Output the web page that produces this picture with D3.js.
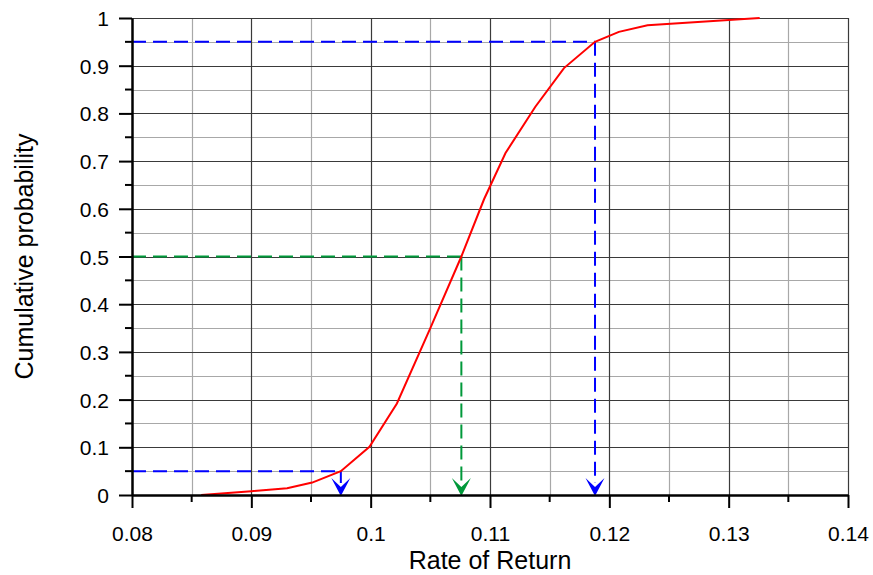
<!DOCTYPE html>
<html>
<head>
<meta charset="utf-8">
<script src="https://cdn.jsdelivr.net/npm/d3@7"></script>
<style>
    body { margin: 0; background: #fff; }
    text { font-family: Arial, "Liberation Sans", sans-serif; fill: #000; }
</style>
</head>
<body>
<div id="chart"></div>
<script>
// cumulative distribution of the rate of return
var returns = [0.0858, 0.0900, 0.0930, 0.0951, 0.0975, 0.0999, 0.1022, 0.1050, 0.1076, 0.1095, 0.1113, 0.1138, 0.1162, 0.1188, 0.1208, 0.1232, 0.1326];
var cumProb = [0, 0.008, 0.014, 0.026, 0.05, 0.101, 0.192, 0.35, 0.50, 0.62, 0.717, 0.814, 0.895, 0.95, 0.971, 0.985, 1.0];

// percentile markers
var markerProb = [0.05, 0.5, 0.95];
var markerReturn = [0.0975, 0.1076, 0.1188];
var markerColor = ["#0000ff", "#00993a", "#0000ff"];

var xTicks = [0.08, 0.09, 0.10, 0.11, 0.12, 0.13, 0.14];
var xMinor = [0.085, 0.095, 0.105, 0.115, 0.125, 0.135];
var yTicks = [0, 0.1, 0.2, 0.3, 0.4, 0.5, 0.6, 0.7, 0.8, 0.9, 1];
var yMinor = [0.05, 0.15, 0.25, 0.35, 0.45, 0.55, 0.65, 0.75, 0.85, 0.95];

var W = 873, H = 575;
var plotL = 132, plotR = 848, plotT = 18, plotB = 495;

var svg = d3.select("#chart").append("svg")
    .attr("width", W)
    .attr("height", H);

var x = d3.scaleLinear().domain([0.08, 0.14]).range([plotL, plotR]);
var y = d3.scaleLinear().domain([0, 1]).range([plotB, plotT]);

var fmt = function (d) { return String(+d.toFixed(3)); };

// grid: minor first, major on top
var grid = svg.append("g");
grid.selectAll(".vminor").data(xMinor).enter().append("line")
    .attr("x1", function (d) { return Math.round(x(d)) + 0.5; })
    .attr("x2", function (d) { return Math.round(x(d)) + 0.5; })
    .attr("y1", plotT).attr("y2", plotB)
    .attr("stroke", "#a8a8a8").attr("stroke-width", 1.2);
grid.selectAll(".hminor").data(yMinor).enter().append("line")
    .attr("y1", function (d) { return Math.round(y(d)) + 0.5; })
    .attr("y2", function (d) { return Math.round(y(d)) + 0.5; })
    .attr("x1", plotL).attr("x2", plotR)
    .attr("stroke", "#a8a8a8").attr("stroke-width", 1.2);
grid.selectAll(".vmajor").data(xTicks.slice(1)).enter().append("line")
    .attr("x1", function (d) { return Math.round(x(d)) + 0.5; })
    .attr("x2", function (d) { return Math.round(x(d)) + 0.5; })
    .attr("y1", plotT).attr("y2", plotB)
    .attr("stroke", "#3a3a3a").attr("stroke-width", 1.2);
grid.selectAll(".hmajor").data(yTicks.slice(1)).enter().append("line")
    .attr("y1", function (d) { return Math.round(y(d)) + 0.5; })
    .attr("y2", function (d) { return Math.round(y(d)) + 0.5; })
    .attr("x1", plotL).attr("x2", plotR)
    .attr("stroke", "#3a3a3a").attr("stroke-width", 1.2);

// dashed guide lines from the axis to the curve and down to the axis
var guides = svg.append("g");
markerProb.forEach(function (p, i) {
    guides.append("path")
        .attr("d", "M" + x(0.08) + "," + y(p) + "H" + x(markerReturn[i]))
        .attr("fill", "none")
        .attr("stroke", markerColor[i])
        .attr("stroke-width", 2)
        .attr("stroke-dasharray", "14,7");
    guides.append("path")
        .attr("d", "M" + x(markerReturn[i]) + "," + y(p) + "V" + (y(0) - 12))
        .attr("fill", "none")
        .attr("stroke", markerColor[i])
        .attr("stroke-width", 2)
        .attr("stroke-dasharray", "14,7");
    // arrow head
    guides.append("path")
        .attr("transform", "translate(" + x(markerReturn[i]) + "," + (y(0) + 1) + ")")
        .attr("d", "M0,0L-9.5,-18L0,-9L9.5,-18Z")
        .attr("fill", markerColor[i]);
});

// cumulative probability curve
var line = d3.line()
    .x(function (d, i) { return x(returns[i]); })
    .y(function (d) { return y(d); });
svg.append("path")
    .datum(cumProb)
    .attr("d", line)
    .attr("fill", "none")
    .attr("stroke", "#ff0000")
    .attr("stroke-width", 2);

// axes
var xAxis = svg.append("g")
    .attr("transform", "translate(0," + plotB + ")")
    .call(d3.axisBottom(x).tickValues(xTicks).tickSize(13).tickSizeOuter(0).tickFormat(fmt));
xAxis.selectAll("text")
    .attr("y", 46).attr("dy", null)
    .style("font-size", "21px");
xAxis.append("g").selectAll("line").data(xMinor).enter().append("line")
    .attr("x1", function (d) { return x(d); })
    .attr("x2", function (d) { return x(d); })
    .attr("y1", 0).attr("y2", 7)
    .attr("stroke", "#000").attr("stroke-width", 2);

var yAxis = svg.append("g")
    .attr("transform", "translate(" + plotL + ",0)")
    .call(d3.axisLeft(y).tickValues(yTicks).tickSize(13).tickSizeOuter(0).tickFormat(fmt));
yAxis.selectAll("text")
    .attr("x", -23).attr("dy", "0.36em")
    .style("font-size", "21px");
yAxis.append("g").selectAll("line").data(yMinor).enter().append("line")
    .attr("y1", function (d) { return y(d); })
    .attr("y2", function (d) { return y(d); })
    .attr("x1", 0).attr("x2", -7)
    .attr("stroke", "#000").attr("stroke-width", 2);

svg.selectAll(".domain").attr("stroke", "#000").attr("stroke-width", 2.5);
svg.selectAll(".tick line").attr("stroke", "#000").attr("stroke-width", 2);

// axis titles
svg.append("text")
    .attr("x", (plotL + plotR) / 2)
    .attr("y", 569)
    .attr("text-anchor", "middle")
    .style("font-size", "25px")
    .text("Rate of Return");

svg.append("text")
    .attr("transform", "translate(33," + ((plotT + plotB) / 2) + ")rotate(-90)")
    .attr("text-anchor", "middle")
    .style("font-size", "25px")
    .text("Cumulative probability");
</script>
</body>
</html>
